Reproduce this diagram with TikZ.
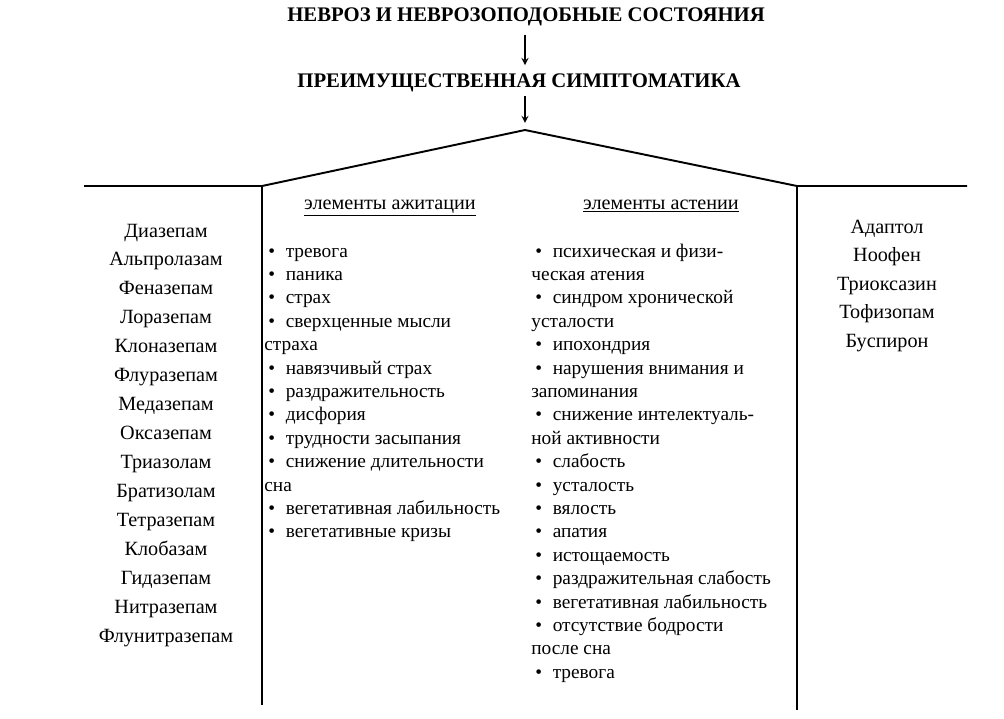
\documentclass[tikz,border=0pt]{standalone}
\usepackage{fontspec}
\setmainfont{Liberation Serif}
\usepackage{tikz}
\usetikzlibrary{arrows, positioning, calc}
\tikzset{
	titletext/.style={font=\fontsize{11.8}{14}\selectfont\bfseries, inner sep=0pt, anchor=base}
}
\tikzset{
	drugtext/.style={font=\fontsize{11.5}{13}\selectfont, inner sep=0pt, anchor=base}
}
\tikzset{
	symtext/.style={font=\fontsize{11}{13}\selectfont, inner sep=0pt, anchor=base west}
}
\tikzset{
	headtext/.style={font=\fontsize{11.5}{13}\selectfont, inner sep=0pt, anchor=base}
}
\newcommand{\bul}{\hspace*{2.3pt}\textbullet\hspace{0.55em}}

\begin{document}
\begin{tikzpicture}[>=stealth, x=0.02cm, y=-0.02cm]
      \useasboundingbox (0,0) rectangle (1004,718);
      \node[titletext] (neuro) at (526,21) {НЕВРОЗ И НЕВРОЗОПОДОБНЫЕ СОСТОЯНИЯ};
      \node[titletext] (sympt) at (519,87) {ПРЕИМУЩЕСТВЕННАЯ СИМПТОМАТИКА};
      % roof over the two symptom columns
      \coordinate (apex) at (525,130);
      \coordinate (roofL) at (262,186);
      \coordinate (roofR) at (797,186);
      \coordinate (eaveL) at (84,186);
      \coordinate (eaveR) at (967,186);
      \coordinate (footL) at (262,705);
      \coordinate (footR) at (797,710);
      \draw[thick, ->, shorten <=5pt, shorten >=4.5pt] (neuro.south -| apex) -- (sympt.north -| apex);
      \draw[thick, ->, shorten <=2.5pt, shorten >=4pt] (sympt.south -| apex) -- (apex);
      \draw[line width=1.1pt] (eaveL) -- (roofL) -- (apex) -- (roofR) -- (eaveR);
      \draw[line width=1.1pt] (roofL) -- (footL);
      \draw[line width=1.1pt] (roofR) -- (footR);
      % column headings
      \node[headtext] (agitHead) at (390,209) {\underline{элементы ажитации}};
      \node[headtext] (asthHead) at (661,209) {\underline{элементы астении}};
      % drugs, left and right
      \foreach \drug [count=\i] in {Диазепам, Альпролазам, Феназепам, Лоразепам, Клоназепам,
          Флуразепам, Медазепам, Оксазепам, Триазолам, Братизолам, Тетразепам, Клобазам,
          Гидазепам, Нитразепам, Флунитразепам}
        \node[drugtext] (left\i) at (166,{237+28.93*(\i-1)}) {\drug};
      \foreach \drug [count=\i] in {Адаптол, Ноофен, Триоксазин, Тофизопам, Буспирон}
        \node[drugtext] (right\i) at (887,{233+28.5*(\i-1)}) {\drug};
      % symptoms of agitation
      \foreach \txt [count=\i] in {\bul тревога, \bul паника, \bul страх, \bul сверхценные мысли,
          страха, \bul навязчивый страх, \bul раздражительность, \bul дисфория,
          \bul трудности засыпания, \bul снижение длительности, сна,
          \bul вегетативная лабильность, \bul вегетативные кризы}
        \node[symtext] (agit\i) at (264,{257+23.4*(\i-1)}) {\txt};
      % symptoms of asthenia
      \foreach \txt [count=\i] in {\bul психическая и физи-, ческая атения, \bul синдром хронической,
          усталости, \bul ипохондрия, \bul нарушения внимания и, запоминания,
          \bul снижение интелектуаль-, ной активности, \bul слабость, \bul усталость,
          \bul вялость, \bul апатия, \bul истощаемость, \bul раздражительная слабость,
          \bul вегетативная лабильность, \bul отсутствие бодрости, после сна, \bul тревога}
        \node[symtext] (asth\i) at (531,{257+23.4*(\i-1)}) {\txt};
    \end{tikzpicture}
\end{document}
